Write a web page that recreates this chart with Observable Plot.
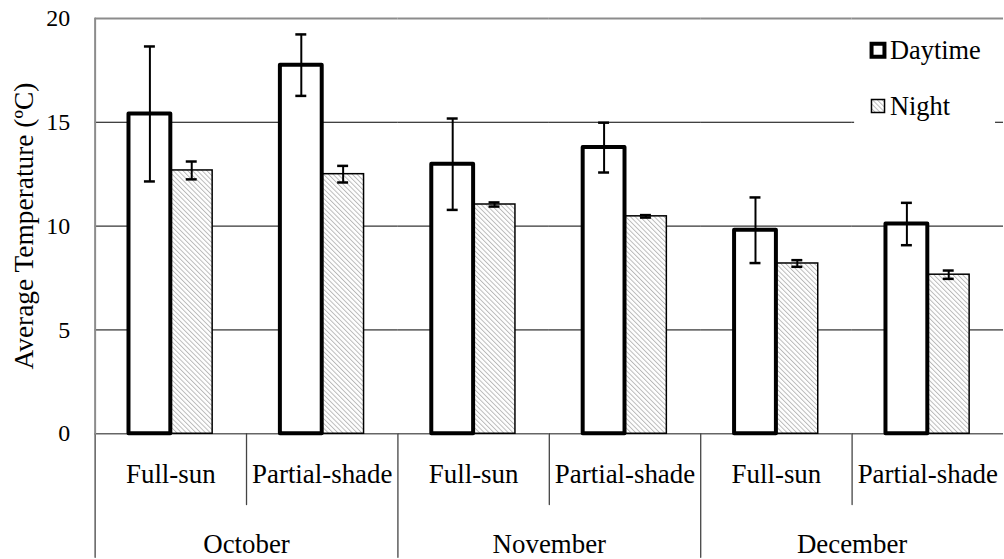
<!DOCTYPE html>
<html><head><meta charset="utf-8">
<script src="https://cdn.jsdelivr.net/npm/d3@7"></script>
<script src="https://cdn.jsdelivr.net/npm/@observablehq/plot@0.6"></script>
<style>
html,body{margin:0;padding:0;background:#fff;}
#chart{width:1004px;height:559px;overflow:hidden;position:relative;}
#chart svg, #chart svg text{font-family:"Liberation Serif","Tinos","Times New Roman","DejaVu Serif",serif !important;}
</style></head><body><div id="chart"></div>
<script>
const months = ["October", "November", "December"];
const conditions = ["Full-sun", "Partial-shade"];
const series = ["Daytime", "Night"];
const dayMean = [15.4, 17.75, 12.98, 13.78, 9.8, 10.1];
const dayErr = [3.25, 1.48, 2.2, 1.2, 1.58, 1.02];
const nightMean = [12.68, 12.5, 11.04, 10.47, 8.2, 7.66];
const nightErr = [0.43, 0.4, 0.1, 0.06, 0.16, 0.2];
const yTicks = [0, 5, 10, 15, 20];
const yLabel = "Average Temperature (ºC)";

const FONT = "Liberation Serif, Tinos, Times New Roman, DejaVu Serif, serif";
const keys = months.flatMap(m => conditions.map(c => m + "|" + c));
const rows = keys.flatMap((k, i) => [
  {key: k, series: series[0], mean: dayMean[i], err: dayErr[i]},
  {key: k, series: series[1], mean: nightMean[i], err: nightErr[i]}
]);
const dayRows = rows.filter(d => d.series === series[0]);
const nightRows = rows.filter(d => d.series === series[1]);
const lineShape = {draw(ctx, l) { ctx.moveTo(0, 0); ctx.lineTo(0, -l); }};
const lastKey = keys[keys.length - 1];

const svg = Plot.plot({
  width: 1008, height: 559,
  marginLeft: 93, marginRight: 0, marginTop: 18, marginBottom: 124,
  style: {fontFamily: FONT, fontSize: "24px", background: "white", color: "black", overflow: "visible"},
  fx: {domain: keys, padding: 0, label: null},
  x: {domain: series, paddingInner: 0, paddingOuter: 0.78, axis: null},
  y: {domain: [0, 20], label: null},
  marks: [
    Plot.ruleY(yTicks.slice(1, 4), {stroke: "black", strokeWidth: 1}),
    Plot.ruleY([yTicks[4]], {stroke: "#8c8c8c", strokeWidth: 2}),
    Plot.ruleY([yTicks[0]], {stroke: "#666", strokeWidth: 1.5}),
    Plot.rect([lastKey], {fx: d => d, fill: "white", insetLeft: 2.5, insetRight: 8, insetTop: 12, insetBottom: 305}),
    Plot.barY(nightRows, {fx: "key", x: "series", y: "mean", fill: "url(#hatch)", stroke: "black", strokeWidth: 1.5}),
    Plot.barY(dayRows, {fx: "key", x: "series", y: "mean", fill: "white", stroke: "black", strokeWidth: 4, strokeLinejoin: "round"}),
    Plot.ruleX(rows, {fx: "key", x: "series", y1: d => d.mean - d.err, y2: d => d.mean + d.err, stroke: "black", strokeWidth: 2}),
    Plot.tickY(rows, {fx: "key", x: "series", y: d => d.mean + d.err, insetLeft: 15.5, insetRight: 15.5, stroke: "black", strokeWidth: 2.5}),
    Plot.tickY(rows, {fx: "key", x: "series", y: d => d.mean - d.err, insetLeft: 15.5, insetRight: 15.5, stroke: "black", strokeWidth: 2.5}),
    Plot.axisY({ticks: yTicks, tickSize: 0, tickPadding: 25, fontSize: 24, fontFamily: FONT, label: null}),
    Plot.text([yLabel], {fx: () => keys[0], text: d => d, frameAnchor: "left", rotate: -90, dx: -71, fontSize: 27.5, fontFamily: FONT, textAnchor: "middle", lineAnchor: "middle"}),
    Plot.axisFx({anchor: "bottom", tickSize: 0, tickPadding: 30, fontSize: 27, fontFamily: FONT, tickFormat: d => d.split("|")[1], label: null}),
    Plot.text(months, {fx: m => m + "|" + conditions[0], text: d => d, frameAnchor: "bottom-right", dy: 111, textAnchor: "middle", lineAnchor: "middle", fontSize: 27, fontFamily: FONT}),
    Plot.vector(keys.filter(k => k.endsWith(conditions[0])), {fx: d => d, frameAnchor: "bottom-left", rotate: 180, anchor: "start", length: 124, shape: lineShape, stroke: "#444", strokeWidth: 1.3}),
    Plot.vector(keys.filter(k => k.endsWith(conditions[1])), {fx: d => d, frameAnchor: "bottom-left", rotate: 180, anchor: "start", length: 71, shape: lineShape, stroke: "#444", strokeWidth: 1.3}),
    Plot.vector([keys[0]], {fx: d => d, frameAnchor: "top-left", rotate: 180, anchor: "start", length: 417, shape: lineShape, stroke: "#8c8c8c", strokeWidth: 2}),
    Plot.dot([series[0]], {fx: () => lastKey, frameAnchor: "top-left", dx: 26, dy: 32, symbol: "square", r: 7.3, fill: "white", stroke: "black", strokeWidth: 4}),
    Plot.dot([series[1]], {fx: () => lastKey, frameAnchor: "top-left", dx: 26, dy: 88, symbol: "square", r: 7.4, fill: "url(#hatch)", stroke: "black", strokeWidth: 1.5}),
    Plot.text([series[0]], {fx: () => lastKey, text: d => d, frameAnchor: "top-left", dx: 38, dy: 32, textAnchor: "start", lineAnchor: "middle", fontSize: 26.5, fontFamily: FONT}),
    Plot.text([series[1]], {fx: () => lastKey, text: d => d, frameAnchor: "top-left", dx: 38, dy: 88, textAnchor: "start", lineAnchor: "middle", fontSize: 26.5, fontFamily: FONT})
  ]
});

const defs = d3.select(svg).insert("defs", ":first-child");
const pat = defs.append("pattern").attr("id", "hatch").attr("patternUnits", "userSpaceOnUse")
  .attr("width", 3.4).attr("height", 3.4).attr("patternTransform", "rotate(-45)");
pat.append("rect").attr("width", 3.4).attr("height", 3.4).attr("fill", "white");
pat.append("line").attr("x1", 0.5).attr("y1", 0).attr("x2", 0.5).attr("y2", 3.4).attr("stroke", "#b4b4b4").attr("stroke-width", 0.9);

document.getElementById("chart").appendChild(svg);
</script></body></html>
